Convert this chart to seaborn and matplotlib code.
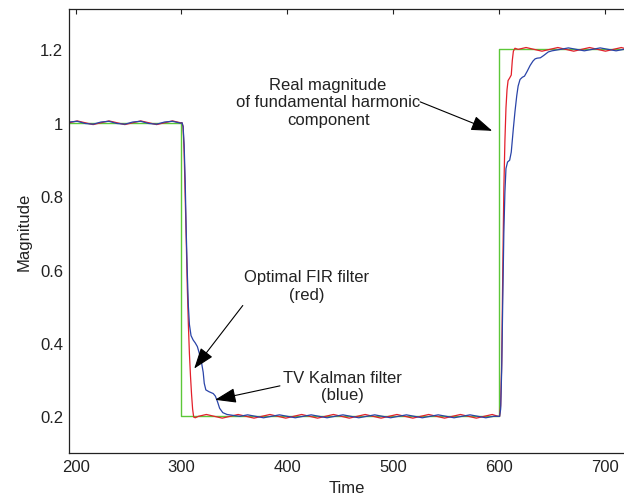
import matplotlib
matplotlib.use("Agg")
import matplotlib.pyplot as plt
import pandas as pd
import seaborn as sns

# ---------------- data ----------------
x_ticks = [200, 300, 400, 500, 600, 700]
y_ticks = [0.2, 0.4, 0.6, 0.8, 1.0, 1.2]
y_tick_labels = ["0.2", "0.4", "0.6", "0.8", "1", "1.2"]

# real magnitude of fundamental harmonic (green)
real_t = [194, 300, 300, 600, 600, 718]
real_v = [1.0, 1.0, 0.2, 0.2, 1.2, 1.2]

# optimal FIR filter estimate (red)
fir_t_high1 = [194, 201.5, 209, 216.5, 224, 231.5, 239, 246.5, 254, 261.5, 269, 276.5, 284, 291.5, 299]
fir_v_high1 = [1.000, 1.005, 1.000, 0.995, 1.000, 1.005, 1.000, 0.995, 1.000, 1.005, 1.000, 0.995, 1.000, 1.005, 1.000]
fir_t_drop = [300.5, 301.5, 302.5, 303.5, 304.5, 305.5, 306.5, 307.5, 308.5, 309.5, 310.5, 311.5, 313]
fir_v_drop = [1.0, 0.99, 0.92, 0.80, 0.68, 0.55, 0.45, 0.37, 0.31, 0.26, 0.22, 0.198, 0.196]
fir_t_low = [316, 323.5, 331, 338.5, 346, 353.5, 361, 368.5, 376, 383.5, 391, 398.5, 406, 413.5,
             421, 428.5, 436, 443.5, 451, 458.5, 466, 473.5, 481, 488.5, 496, 503.5, 511, 518.5,
             526, 533.5, 541, 548.5, 556, 563.5, 571, 578.5, 586, 593.5]
fir_v_low = [0.200, 0.205, 0.200, 0.195, 0.200, 0.205, 0.200, 0.195, 0.200, 0.205, 0.200, 0.195,
             0.200, 0.205, 0.200, 0.195, 0.200, 0.205, 0.200, 0.195, 0.200, 0.205, 0.200, 0.195,
             0.200, 0.205, 0.200, 0.195, 0.200, 0.205, 0.200, 0.195, 0.200, 0.205, 0.200, 0.195,
             0.200, 0.205]
fir_t_rise = [599, 600.5, 601.5, 602.5, 603.5, 604.5, 605.5, 606.5, 607.5, 608.5, 610, 611.5, 612.5, 613.5, 615]
fir_v_rise = [0.2, 0.2, 0.23, 0.35, 0.6, 0.82, 0.95, 1.04, 1.09, 1.115, 1.122, 1.13, 1.17, 1.195, 1.203]
fir_t_high2 = [618, 625.5, 633, 640.5, 648, 655.5, 663, 670.5, 678, 685.5, 693, 700.5, 708, 715.5, 718]
fir_v_high2 = [1.200, 1.205, 1.200, 1.195, 1.200, 1.205, 1.200, 1.195, 1.200, 1.205, 1.200, 1.195,
               1.200, 1.205, 1.203]

# TV Kalman filter estimate (blue)
kal_t_high1 = [194, 201.5, 209, 216.5, 224, 231.5, 239, 246.5, 254, 261.5, 269, 276.5, 284, 291.5, 299]
kal_v_high1 = [1.002, 1.004, 0.998, 0.996, 1.002, 1.004, 0.998, 0.996, 1.002, 1.004, 0.998, 0.996, 1.002, 1.004, 0.999]
kal_t_drop = [300.5, 301.5, 302.5, 303.5, 304.5, 305.5, 306.5, 307.5, 309, 311, 313, 315, 317, 319,
              320.5, 321.5, 323, 326, 330, 332, 334, 336, 339, 343, 350]
kal_v_drop = [1.0, 0.99, 0.94, 0.84, 0.7, 0.59, 0.5, 0.45, 0.42, 0.408, 0.4, 0.39, 0.37, 0.345,
              0.32, 0.29, 0.272, 0.267, 0.262, 0.255, 0.24, 0.222, 0.21, 0.205, 0.202]
kal_t_low = [355, 362.5, 370, 377.5, 385, 392.5, 400, 407.5, 415, 422.5, 430, 437.5, 445, 452.5,
             460, 467.5, 475, 482.5, 490, 497.5, 505, 512.5, 520, 527.5, 535, 542.5, 550, 557.5,
             565, 572.5, 580, 587.5, 595]
kal_v_low = [0.200, 0.204, 0.200, 0.196, 0.200, 0.204, 0.200, 0.196, 0.200, 0.204, 0.200, 0.196,
             0.200, 0.204, 0.200, 0.196, 0.200, 0.204, 0.200, 0.196, 0.200, 0.204, 0.200, 0.196,
             0.200, 0.204, 0.200, 0.196, 0.200, 0.204, 0.200, 0.196, 0.200]
kal_t_rise = [599, 600.5, 601.5, 602.5, 603.5, 604.5, 605.5, 606.5, 608, 610, 611.5, 613.5, 615, 616.7,
              618, 619.8, 622, 624, 626.5, 629.3, 632, 634, 636, 639, 642, 646.5, 650, 654]
kal_v_rise = [0.2, 0.2, 0.22, 0.33, 0.52, 0.7, 0.81, 0.875, 0.893, 0.898, 0.92, 0.985, 1.03, 1.074,
              1.1, 1.118, 1.124, 1.127, 1.14, 1.156, 1.168, 1.174, 1.176, 1.177, 1.183, 1.193, 1.196, 1.198]
kal_t_high2 = [658, 665.5, 673, 680.5, 688, 695.5, 703, 710.5, 718]
kal_v_high2 = [1.200, 1.204, 1.200, 1.196, 1.200, 1.204, 1.200, 1.196, 1.200]

# ---------------- build tables ----------------
real_df = pd.DataFrame({"Time": real_t, "Magnitude": real_v})
fir_df = pd.DataFrame({
    "Time": fir_t_high1 + fir_t_drop + fir_t_low + fir_t_rise + fir_t_high2,
    "Magnitude": fir_v_high1 + fir_v_drop + fir_v_low + fir_v_rise + fir_v_high2,
})
kal_df = pd.DataFrame({
    "Time": kal_t_high1 + kal_t_drop + kal_t_low + kal_t_rise + kal_t_high2,
    "Magnitude": kal_v_high1 + kal_v_drop + kal_v_low + kal_v_rise + kal_v_high2,
})

# ---------------- style ----------------
sns.set_style("white")
plt.rcParams["font.family"] = ["Liberation Sans", "DejaVu Sans"]
plt.rcParams["font.size"] = 12

fig = plt.figure(figsize=(6.24, 5.02), dpi=100)
ax = fig.add_axes([0.110, 0.0956, 0.890, 0.8845])

line_kw = dict(estimator=None, sort=False, legend=False)
sns.lineplot(data=real_df, x="Time", y="Magnitude", ax=ax, color="#5cc738", linewidth=1.0, **line_kw)
sns.lineplot(data=fir_df, x="Time", y="Magnitude", ax=ax, color="#e3202b", linewidth=0.9, **line_kw)
sns.lineplot(data=kal_df, x="Time", y="Magnitude", ax=ax, color="#2a44a8", linewidth=0.9, **line_kw)

ax.set_xlim(193.4, 718)
ax.set_ylim(0.1, 1.31)
ax.set_xticks(x_ticks)
ax.set_yticks(y_ticks)
ax.set_yticklabels(y_tick_labels)
ax.tick_params(direction="in", top=True, right=False, length=3.5, width=0.8,
               labelsize=12, colors="#222222", pad=4)
for side in ["left", "bottom", "top", "right"]:
    ax.spines[side].set_color("#222222")
    ax.spines[side].set_linewidth(0.9)
ax.spines["right"].set_visible(False)

ax.set_xlabel("Time", fontsize=12, color="#222222")
ax.set_ylabel("Magnitude", fontsize=12, color="#222222")
ax.xaxis.set_label_coords(0.5, -0.061)
ax.yaxis.set_label_coords(-0.066, 0.5)

arrow = dict(arrowstyle="-|>,head_length=0.65,head_width=0.23", color="black",
             lw=0.8, mutation_scale=20, shrinkA=0, shrinkB=0)
ax.annotate("", xy=(593.5, 0.978), xytext=(525.4, 1.057), arrowprops=arrow)
ax.text(438.5, 1.057, "Real magnitude\nof fundamental harmonic\ncomponent",
        ha="center", va="center", fontsize=12, color="#222222")

ax.annotate("", xy=(312.0, 0.33), xytext=(357.9, 0.502), arrowprops=arrow)
ax.text(418.6, 0.556, "Optimal FIR filter\n(red)", ha="center", va="center",
        fontsize=12, color="#222222")

ax.annotate("", xy=(331.7, 0.245), xytext=(393.0, 0.283), arrowprops=arrow)
ax.text(451.7, 0.283, "TV Kalman filter\n(blue)", ha="center", va="center",
        fontsize=12, color="#222222")

fig.savefig("out.png", dpi=100)
